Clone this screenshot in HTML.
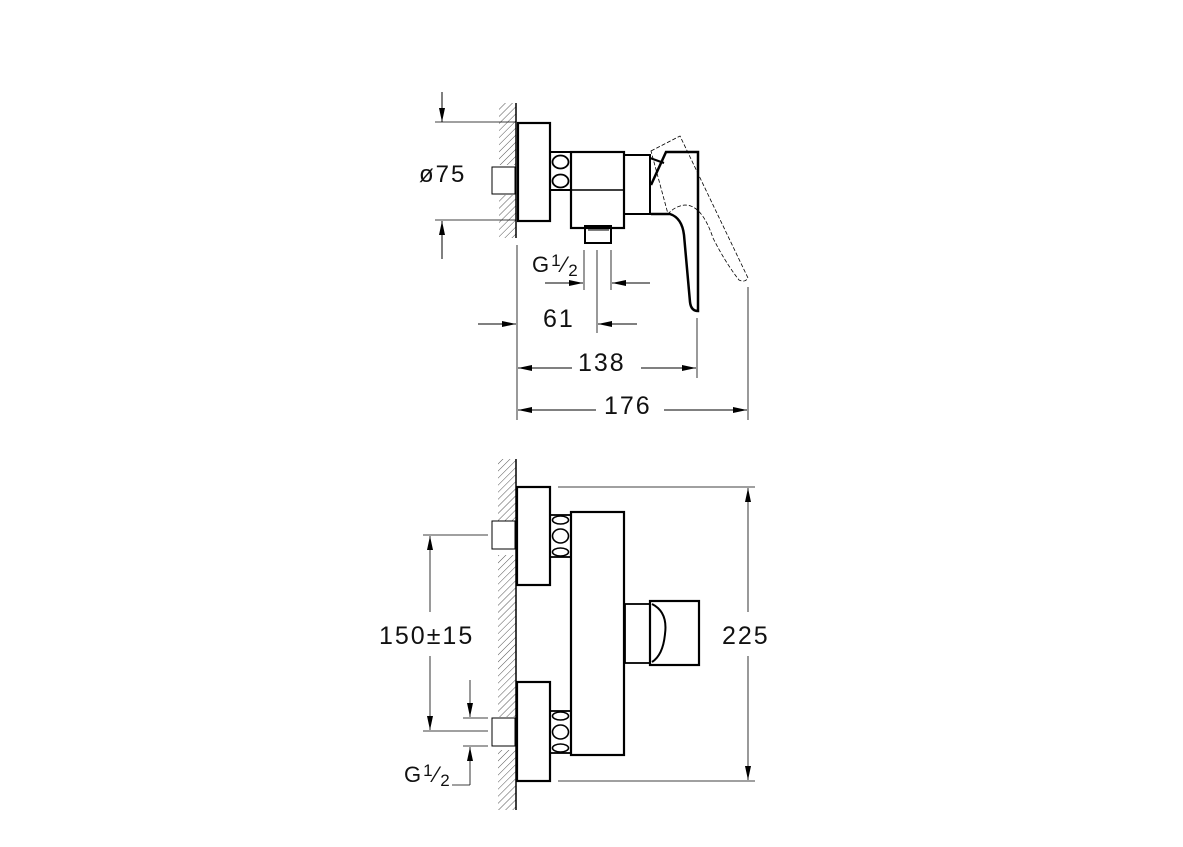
<!DOCTYPE html>
<html><head><meta charset="utf-8"><style>
html,body{margin:0;padding:0;background:#fff}
svg{display:block}
text{font-family:"Liberation Sans",sans-serif;fill:#111;letter-spacing:2px}
</style></head><body>
<svg width="1183" height="847" viewBox="0 0 1183 847" xmlns="http://www.w3.org/2000/svg">
<defs>
<pattern id="h" width="5" height="5" patternUnits="userSpaceOnUse" patternTransform="rotate(45)">
<line x1="0" y1="0" x2="0" y2="5" stroke="#555" stroke-width="1"/></pattern>
<marker id="a" viewBox="0 0 14 6" refX="14" refY="3" markerWidth="14" markerHeight="6" orient="auto" markerUnits="userSpaceOnUse"><path d="M0,0 L14,3 L0,6 Z" fill="#000"/></marker>
</defs>
<g fill="none" stroke="#000">
<!-- TOP VIEW -->
<rect x="499" y="103" width="17" height="62" fill="url(#h)" stroke="none"/>
<rect x="499" y="195" width="17" height="43" fill="url(#h)" stroke="none"/>
<line x1="516" y1="103" x2="516" y2="238" stroke-width="1.5"/>
<rect x="492" y="167" width="23" height="27" stroke-width="1"/>
<rect x="518" y="123" width="32" height="98" stroke-width="2.2"/>
<rect x="550" y="152" width="21" height="38" stroke-width="2"/>
<ellipse cx="560.5" cy="162" rx="8" ry="6.5" stroke-width="1.8"/>
<ellipse cx="560.5" cy="181" rx="8" ry="6.5" stroke-width="1.8"/>
<rect x="571" y="152" width="53" height="76" stroke-width="2.2"/>
<line x1="571" y1="190" x2="624" y2="190" stroke-width="1.5"/>
<rect x="624" y="155" width="26" height="59" stroke-width="2"/>
<rect x="585" y="226" width="26" height="17" stroke-width="2"/>
<line x1="588" y1="230" x2="609" y2="230" stroke-width="1"/>
<path d="M651,214 L670,214 Q682,218 684,235 L690,302 Q691,311 698,311 L698,152 L666,152 L651,185" stroke-width="2.5"/>
<line x1="650" y1="158" x2="664" y2="163" stroke-width="2"/>
<path d="M651,151 L680,136 L748,278 Q745,283 739,280 Q725,262 713,238 Q702,205 685,205 Q675,206 668,214 Z" stroke-width="0.8" stroke-dasharray="4,2"/>
<!-- dims top -->
<line x1="442" y1="92" x2="442" y2="122" marker-end="url(#a)"/>
<line x1="435" y1="122" x2="516" y2="122" stroke-width="0.8"/>
<line x1="435" y1="220" x2="516" y2="220" stroke-width="0.8"/>
<line x1="442" y1="259" x2="442" y2="221" marker-end="url(#a)"/>
<line x1="584" y1="250" x2="584" y2="290" stroke-width="0.8"/>
<line x1="611" y1="250" x2="611" y2="290" stroke-width="0.8"/>
<line x1="597" y1="250" x2="597" y2="333" stroke-width="0.8"/>
<line x1="545" y1="283" x2="583" y2="283" marker-end="url(#a)"/>
<line x1="650" y1="283" x2="612" y2="283" marker-end="url(#a)"/>
<line x1="478" y1="324" x2="516" y2="324" marker-end="url(#a)"/>
<line x1="637" y1="324" x2="598" y2="324" marker-end="url(#a)"/>
<line x1="517" y1="245" x2="517" y2="420" stroke-width="0.8"/>
<line x1="697" y1="318" x2="697" y2="378" stroke-width="0.8"/>
<line x1="748" y1="287" x2="748" y2="420" stroke-width="0.8"/>
<line x1="572" y1="368" x2="518" y2="368" marker-end="url(#a)"/>
<line x1="641" y1="368" x2="696" y2="368" marker-end="url(#a)"/>
<line x1="596" y1="410" x2="518" y2="410" marker-end="url(#a)"/>
<line x1="664" y1="410" x2="747" y2="410" marker-end="url(#a)"/>
<!-- BOTTOM VIEW -->
<rect x="498" y="459" width="18" height="62" fill="url(#h)" stroke="none"/>
<rect x="498" y="555" width="18" height="162" fill="url(#h)" stroke="none"/>
<rect x="498" y="750" width="18" height="60" fill="url(#h)" stroke="none"/>
<line x1="516" y1="459" x2="516" y2="810" stroke-width="1.5"/>
<rect x="492" y="521" width="23" height="28" stroke-width="1"/>
<rect x="492" y="718" width="23" height="28" stroke-width="1"/>
<rect x="517" y="487" width="33" height="98" stroke-width="2.2"/>
<rect x="517" y="682" width="33" height="99" stroke-width="2.2"/>
<rect x="550" y="515" width="21" height="42" stroke-width="1.8"/>
<ellipse cx="560.5" cy="520" rx="8" ry="4" stroke-width="1.6"/>
<ellipse cx="560.5" cy="536" rx="8" ry="7" stroke-width="1.6"/>
<ellipse cx="560.5" cy="552" rx="8" ry="4" stroke-width="1.6"/>
<rect x="550" y="711" width="21" height="42" stroke-width="1.8"/>
<ellipse cx="560.5" cy="716" rx="8" ry="4" stroke-width="1.6"/>
<ellipse cx="560.5" cy="732" rx="8" ry="7" stroke-width="1.6"/>
<ellipse cx="560.5" cy="748" rx="8" ry="4" stroke-width="1.6"/>
<rect x="571" y="512" width="53" height="243" stroke-width="2.2"/>
<rect x="625" y="604" width="25" height="59" stroke-width="1.8"/>
<rect x="650" y="601" width="49" height="64" stroke-width="2.2"/>
<path d="M652,604 Q668,612 665,634 Q663,655 652,662" stroke-width="2"/>
<!-- dims bottom -->
<line x1="558" y1="487" x2="755" y2="487" stroke-width="0.8"/>
<line x1="558" y1="781" x2="755" y2="781" stroke-width="0.8"/>
<line x1="748" y1="612" x2="748" y2="488" stroke-width="0.8" marker-end="url(#a)"/>
<line x1="748" y1="656" x2="748" y2="780" stroke-width="0.8" marker-end="url(#a)"/>
<line x1="423" y1="535" x2="488" y2="535" stroke-width="0.8"/>
<line x1="423" y1="731" x2="488" y2="731" stroke-width="0.8"/>
<line x1="430" y1="612" x2="430" y2="536" stroke-width="0.8" marker-end="url(#a)"/>
<line x1="430" y1="656" x2="430" y2="730" stroke-width="0.8" marker-end="url(#a)"/>
<line x1="463" y1="718" x2="488" y2="718" stroke-width="0.8"/>
<line x1="463" y1="746" x2="488" y2="746" stroke-width="0.8"/>
<line x1="470" y1="680" x2="470" y2="717" stroke-width="0.8" marker-end="url(#a)"/>
<line x1="470" y1="785" x2="470" y2="747" stroke-width="0.8" marker-end="url(#a)"/>
<line x1="452" y1="785" x2="470" y2="785" stroke-width="0.8"/>
</g>
<text x="419" y="182" font-size="24">ø75</text>
<text x="532" y="272" font-size="22" letter-spacing="0">G<tspan font-size="17" dy="-6">1</tspan><tspan font-size="22" dy="6">⁄</tspan><tspan font-size="17" dy="4">2</tspan></text>
<text x="543" y="327" font-size="25">61</text>
<text x="578" y="371" font-size="25">138</text>
<text x="604" y="414" font-size="25">176</text>
<text x="379" y="644" font-size="25" letter-spacing="1">150±15</text>
<text x="722" y="644" font-size="25">225</text>
<text x="404" y="782" font-size="22" letter-spacing="0">G<tspan font-size="17" dy="-6">1</tspan><tspan font-size="22" dy="6">⁄</tspan><tspan font-size="17" dy="4">2</tspan></text>
</svg>
</body></html>
